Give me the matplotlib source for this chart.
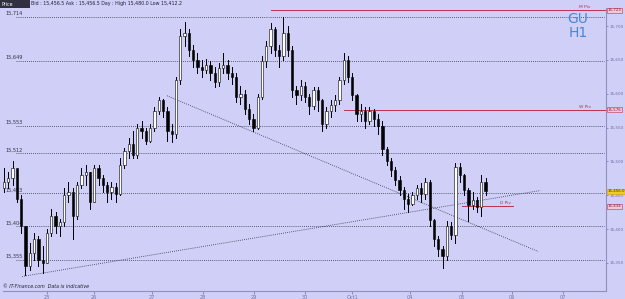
import matplotlib.pyplot as plt
from matplotlib.patches import Rectangle

# 2-hour bars (price)
closes = [15470, 15475, 15490, 15445, 15405, 15345, 15365, 15385, 15355, 15350,
          15395, 15420, 15405, 15410, 15450, 15455, 15420, 15465, 15480, 15485,
          15440, 15490, 15475, 15465, 15455, 15462, 15452, 15495, 15515, 15525,
          15510, 15550, 15545, 15530, 15550, 15575, 15590, 15575, 15545, 15540,
          15620, 15685, 15690, 15665, 15650, 15640, 15635, 15642, 15630, 15618,
          15638, 15642, 15630, 15625, 15595, 15600, 15578, 15562, 15550, 15595,
          15648, 15670, 15695, 15665, 15655, 15690, 15665, 15605, 15598, 15612,
          15595, 15582, 15605, 15590, 15555, 15575, 15583, 15590, 15620, 15650,
          15625, 15598, 15570, 15575, 15560, 15575, 15562, 15552, 15518, 15500,
          15488, 15472, 15458, 15445, 15437, 15450, 15460, 15452, 15470, 15413,
          15385, 15370, 15360, 15405, 15392, 15492, 15480, 15458, 15435, 15443,
          15432, 15470, 15456]
highs = [15490, 15485, 15500, 15485, 15450, 15405, 15380, 15395, 15390, 15375,
         15400, 15430, 15425, 15415, 15460, 15470, 15460, 15470, 15490, 15495,
         15485, 15495, 15495, 15480, 15470, 15470, 15468, 15505, 15520, 15535,
         15545, 15555, 15560, 15550, 15555, 15580, 15595, 15592, 15580, 15555,
         15625, 15695, 15706, 15695, 15672, 15660, 15650, 15652, 15648, 15640,
         15645, 15660, 15650, 15640, 15630, 15612, 15605, 15585, 15570, 15600,
         15655, 15678, 15705, 15698, 15672, 15714, 15700, 15670, 15612, 15620,
         15618, 15600, 15610, 15610, 15592, 15580, 15590, 15598, 15625, 15660,
         15655, 15630, 15600, 15585, 15580, 15580, 15578, 15570, 15560, 15522,
         15505, 15492, 15478, 15462, 15452, 15455, 15465, 15468, 15475, 15472,
         15415, 15390, 15375, 15412, 15410, 15498, 15497, 15482, 15460, 15455,
         15448, 15480, 15475]
lows = [15455, 15460, 15465, 15440, 15395, 15332, 15340, 15355, 15345, 15335,
        15350, 15390, 15395, 15390, 15405, 15440, 15385, 15415, 15460, 15465,
        15430, 15440, 15465, 15455, 15440, 15445, 15440, 15450, 15490, 15505,
        15505, 15505, 15535, 15525, 15528, 15545, 15570, 15565, 15530, 15528,
        15535, 15615, 15670, 15655, 15640, 15630, 15625, 15630, 15620, 15610,
        15612, 15630, 15622, 15615, 15588, 15585, 15570, 15555, 15545, 15548,
        15592, 15640, 15660, 15655, 15640, 15650, 15655, 15595, 15585, 15590,
        15588, 15570, 15578, 15575, 15545, 15550, 15565, 15575, 15585, 15615,
        15618, 15590, 15560, 15560, 15550, 15555, 15552, 15540, 15510, 15495,
        15478, 15465, 15450, 15430, 15425, 15435, 15445, 15440, 15445, 15405,
        15375, 15360, 15342, 15355, 15385, 15380, 15470, 15450, 15412, 15430,
        15425, 15420, 15450]
first_open = 15460

day_pos = [10.0, 20.9, 34.4, 46.3, 58.1, 70.0, 81.0, 94.4, 106.5, 118.1, 130.0]
day_labels = ['23', '26', '27', '28', '29', '30', 'Oct1', '04', '05', '06', '07']

fib_levels = [15714, 15649, 15553, 15512, 15453, 15404, 15355]
fib_labels = ['15,714', '15,649', '15,553', '15,512', '15,453', '15,404', '15,355']

right_ticks = [15700, 15650, 15600, 15550, 15500, 15450, 15400, 15350]

m_piv, w_piv, d_piv = 15723, 15576, 15434
last_price = 15456

# trendlines (bar, price)
up_line = ([4.2, 124.7], [15330, 15457])
down_line = ([37.9, 124.2], [15597, 15367])

bg = '#cfcff8'
fig = plt.figure(figsize=(6.25, 2.99), dpi=100)
fig.patch.set_facecolor(bg)
ax = fig.add_axes([3 / 625, 1 - 291 / 299, 603 / 625, 283 / 299])
ax.set_facecolor(bg)

ax.set_xlim(-0.23, 140)
ax.set_ylim(15308.6, 15726.6)

# fib grid lines with labels on the left
for lv, lb in zip(fib_levels, fib_labels):
    ax.plot([2.8, 139.5], [lv, lv], color='#333344', lw=0.6, ls=(0, (1, 1.5)), zorder=1)
    ax.text(0.3, lv + 1, lb, fontsize=3.6, color='#333344', ha='left', va='bottom')

# trendlines
ax.plot(*up_line, color='#333344', lw=0.6, ls=(0, (1, 1.5)), zorder=1)
ax.plot(*down_line, color='#333344', lw=0.6, ls=(0, (1, 1.5)), zorder=1)

# pivots
ax.plot([62, 140], [m_piv, m_piv], color='#c03050', lw=0.7, zorder=2)
ax.plot([79, 140], [w_piv, w_piv], color='#c03050', lw=0.7, zorder=2)
ax.plot([106.6, 118.4], [d_piv, d_piv], color='#c03050', lw=0.7, zorder=2)
ax.text(136.5, m_piv + 2, 'M Piv', fontsize=3.2, color='#c03050', ha='right', va='bottom')
ax.text(136.5, w_piv + 2, 'W Piv', fontsize=3.2, color='#c03050', ha='right', va='bottom')
ax.text(118, d_piv + 2, 'D Piv', fontsize=3.2, color='#c03050', ha='right', va='bottom')

# candles
w = 0.55
prev = first_open
for i, (c, h, l) in enumerate(zip(closes, highs, lows)):
    o = prev
    ax.plot([i, i], [l, h], color='black', lw=0.7, zorder=3)
    fc = 'white' if c >= o else 'black'
    lo, hi = min(o, c), max(o, c)
    ax.add_patch(Rectangle((i - w / 2, lo), w, max(hi - lo, 0.8), facecolor=fc,
                           edgecolor='black', lw=0.4, zorder=4))
    prev = c

# right axis
ax.yaxis.tick_right()
ax.set_yticks(right_ticks)
ax.set_yticklabels([f'{t:,}' for t in right_ticks])
ax.tick_params(axis='y', labelsize=3.0, colors='#7070a0', length=1.5, width=0.5, pad=0.8)
ax.set_xticks(day_pos)
ax.set_xticklabels(day_labels)
ax.tick_params(axis='x', labelsize=3.6, colors='#7070a0', length=2, width=0.5, pad=1)
for s in ['top', 'left']:
    ax.spines[s].set_visible(False)
for s in ['right', 'bottom']:
    ax.spines[s].set_color('#9090c0')
    ax.spines[s].set_linewidth(0.8)

# boxed price labels on the right axis
def tag(price, text, fc, ec, tc):
    ax.text(140.4, price, text, fontsize=2.9, color=tc,
            ha='left', va='center', clip_on=False,
            bbox=dict(boxstyle='square,pad=0.12', fc=fc, ec=ec, lw=0.4))

tag(m_piv, '15,723', '#f2c6dc', '#c03050', '#802040')
tag(w_piv, '15,576', '#f2c6dc', '#c03050', '#802040')
tag(last_price, '15,456.0', '#f0cc20', '#d0a000', '#503000')
tag(d_piv, '15,434', '#f2c6dc', '#c03050', '#802040')

ax.text(133.5, 15700, 'GU\nH1', fontsize=10, color='#4a86d8', ha='center', va='center',
        linespacing=0.95)

# header
fig.patches.append(Rectangle((0, 1 - 8 / 299), 30 / 625, 8 / 299, transform=fig.transFigure,
                             facecolor='#303040', edgecolor='none'))
fig.text(2 / 625, 1 - 4 / 299, 'Price', fontsize=3.4, color='white', va='center')
fig.text(31 / 625, 1 - 4 / 299, 'Bid : 15,456.5 Ask : 15,456.5 Day : High 15,480.0 Low 15,412.2',
         fontsize=3.4, color='#202030', va='center')

fig.text(3 / 625, 1 - 289 / 299, '\u00a9 IT-Finance.com  Data is indicative', fontsize=3.4,
         color='#202030', style='italic', va='bottom')

fig.savefig('out.png', dpi=100, facecolor=bg)
